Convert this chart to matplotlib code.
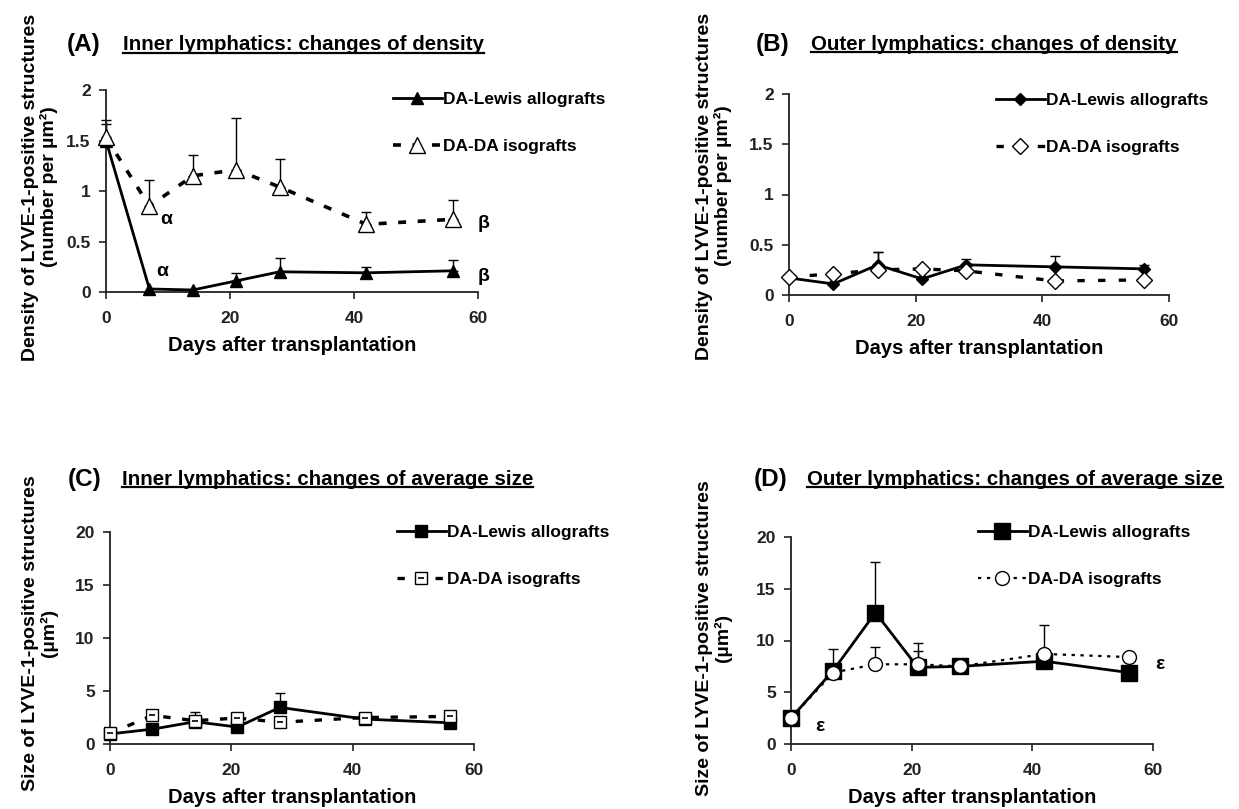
import numpy as np
import matplotlib
matplotlib.use("Agg")
import matplotlib.pyplot as plt
from matplotlib.lines import Line2D
from matplotlib.legend_handler import HandlerTuple

# days after transplantation
days = [0, 7, 14, 21, 28, 42, 56]

# (A) inner lymphatics, density
a_allo = [1.50, 0.03, 0.02, 0.11, 0.20, 0.19, 0.21]
a_allo_err = [0.20, 0, 0, 0.08, 0.14, 0.06, 0.11]
a_iso = [1.53, 0.85, 1.15, 1.21, 1.04, 0.67, 0.72]
a_iso_err = [0.13, 0.26, 0.21, 0.51, 0.28, 0.12, 0.19]

# (B) outer lymphatics, density
b_allo = [0.17, 0.11, 0.30, 0.16, 0.30, 0.28, 0.26]
b_allo_err = [0, 0, 0.13, 0, 0.06, 0.11, 0.04]
b_iso = [0.18, 0.21, 0.25, 0.26, 0.24, 0.14, 0.15]
b_iso_err = [0, 0, 0.18, 0, 0, 0, 0]

# (C) inner lymphatics, average size
c_allo = [0.95, 1.4, 2.1, 1.6, 3.45, 2.35, 2.0]
c_allo_err = [0, 0.3, 0.9, 0.3, 1.35, 0.2, 0.3]
c_iso = [1.0, 2.7, 2.2, 2.45, 2.05, 2.5, 2.6]
c_iso_err = [0, 0.2, 0.4, 0.2, 0.2, 0.2, 0.1]

# (D) outer lymphatics, average size
d_allo = [2.5, 7.1, 12.7, 7.4, 7.5, 8.0, 6.9]
d_allo_err = [0, 2.05, 4.9, 1.6, 0.3, 0, 0]
d_iso = [2.5, 6.9, 7.7, 7.7, 7.5, 8.7, 8.4]
d_iso_err = [0, 0, 1.65, 2.1, 0, 2.8, 0]

allo_label = "DA-Lewis allografts"
iso_label = "DA-DA isografts"
xlabel = "Days after transplantation"
ylab_density = "Density of LYVE-1-positive structures\n(number per µm²)"
ylab_size = "Size of LYVE-1-positive structures\n(µm²)"

SANS = ["Liberation Sans", "DejaVu Sans"]

W, H = 1239, 809
fig = plt.figure(figsize=(W / 100, H / 100), dpi=100)
fig.patch.set_facecolor("white")


def axes_px(x0, x1, ytop, ybot):
    return fig.add_axes([x0 / W, 1 - ybot / H, (x1 - x0) / W, (ybot - ytop) / H])


def style_axes(ax, ymax, yticks, yticklabels):
    ax.set_xlim(0, 60)
    ax.set_ylim(0, ymax)
    ax.set_xticks([0, 20, 40, 60])
    ax.set_yticks(yticks)
    ax.set_yticklabels(yticklabels)
    for s in ["top", "right"]:
        ax.spines[s].set_visible(False)
    for s in ["left", "bottom"]:
        ax.spines[s].set_linewidth(1.3)
        ax.spines[s].set_color("#222222")
    ax.tick_params(direction="out", length=5, width=1.2, color="#222222")
    ax.tick_params(axis="x", pad=9)
    ax.tick_params(axis="y", pad=6)
    for lab in ax.get_xticklabels() + ax.get_yticklabels():
        lab.set_family(SANS)
        lab.set_fontweight("bold")
        lab.set_fontsize(12.5)
        lab.set_color("#222222")
    ax.set_xlabel(xlabel, family=SANS, fontweight="bold", fontsize=14.5, labelpad=7)


def errbars(ax, vals, err):
    vals = np.array(vals, dtype=float)
    err = np.array(err, dtype=float)
    m = err > 0
    x = np.array(days)[m]
    ax.errorbar(x, vals[m], yerr=[np.zeros(m.sum()), err[m]], fmt="none",
                ecolor="black", elinewidth=1, capsize=3.5, capthick=1, zorder=1,
                clip_on=False)


def legend_at(ax, handles, x_px, ymid_px):
    leg = ax.legend(handles, [allo_label, iso_label], loc="center left",
                    bbox_to_anchor=(x_px / W, 1 - ymid_px / H),
                    bbox_transform=fig.transFigure, frameon=False,
                    handlelength=2.8, handletextpad=0.1, labelspacing=1.8,
                    borderpad=0, borderaxespad=0,
                    prop={"family": SANS, "weight": "bold", "size": 12.5},
                    handler_map={tuple: HandlerTuple(ndivide=1, pad=0)})
    return leg


def ylabel_at(text, x_px, y_px):
    fig.text(x_px / W, 1 - y_px / H, text, rotation=90, family=SANS,
             fontweight="bold", fontsize=14, ha="center", va="center",
             linespacing=1.05, multialignment="center")


titles = []


def panel_title(tag, text, tag_x, text_x, y):
    fig.text(tag_x / W, 1 - y / H, tag, family=SANS, fontweight="bold",
             fontsize=17.5, va="center", ha="left")
    t = fig.text(text_x / W, 1 - y / H, text, family=SANS, fontweight="bold",
                 fontsize=14.8, va="center", ha="left")
    titles.append(t)


# ---------------- (A) ----------------
axA = axes_px(106, 478, 90, 292)
errbars(axA, a_allo, a_allo_err)
errbars(axA, a_iso, a_iso_err)
lA1, = axA.plot(days, a_allo, color="black", lw=2, marker="^", ms=9,
                mfc="black", mec="black", zorder=3, clip_on=False)
lA2, = axA.plot(days, a_iso, color="black", lw=2.6, ls=(0, (2.2, 3.2)),
                marker="^", ms=12, mfc="white", mec="black", mew=1,
                zorder=4, clip_on=False)
style_axes(axA, 2, [0, 0.5, 1, 1.5, 2], ["0", "0.5", "1", "1.5", "2"])
legend_at(axA, [lA1, lA2], 393, 123)
for x, y, s in [(8.7, 0.72, "α"), (8.1, 0.2, "α"), (59.9, 0.68, "β"), (59.9, 0.15, "β")]:
    axA.text(x, y, s, family=SANS, fontweight="bold", fontsize=14,
             ha="left", va="center", clip_on=False)
panel_title("(A)", "Inner lymphatics: changes of density", 67, 123, 45)
ylabel_at(ylab_density, 40, 187)

# ---------------- (B) ----------------
axB = axes_px(789, 1169, 94, 295)
errbars(axB, b_allo, b_allo_err)
errbars(axB, b_iso, b_iso_err)
lB1, = axB.plot(days, b_allo, color="black", lw=2, marker="D", ms=6.5,
                mfc="black", mec="black", zorder=3, clip_on=False)
lB2, = axB.plot(days, b_iso, color="black", lw=2.4, ls=(0, (2.2, 4)),
                marker="D", ms=8.5, mfc="white", mec="black", mew=1,
                zorder=4, clip_on=False)
style_axes(axB, 2, [0, 0.5, 1, 1.5, 2], ["0", "0.5", "1", "1.5", "2"])
legend_at(axB, [lB1, lB2], 996, 124)
panel_title("(B)", "Outer lymphatics: changes of density", 756, 811, 44)
ylabel_at(ylab_density, 714, 186)

# ---------------- (C) ----------------
axC = axes_px(110, 474, 532, 744)
errbars(axC, c_allo, c_allo_err)
errbars(axC, c_iso, c_iso_err)
lC1, = axC.plot(days, c_allo, color="black", lw=2, marker="s", ms=8,
                mfc="black", mec="black", zorder=3, clip_on=False)
lC2, = axC.plot(days, c_iso, color="black", lw=2.4, ls=(0, (2.2, 3.5)),
                marker="s", ms=8, mfc="white", mec="black", mew=1,
                zorder=4, clip_on=False)
lC2b, = axC.plot(days, c_iso, ls="none", marker="_", ms=5, mec="black",
                 mew=1.2, zorder=5, clip_on=False)
style_axes(axC, 20, [0, 5, 10, 15, 20], ["0", "5", "10", "15", "20"])
legend_at(axC, [lC1, (lC2, lC2b)], 397, 556)
panel_title("(C)", "Inner lymphatics: changes of average size", 68, 122, 480)
ylabel_at(ylab_size, 40, 633)

# ---------------- (D) ----------------
axD = axes_px(791, 1153, 537, 744)
errbars(axD, d_allo, d_allo_err)
errbars(axD, d_iso, d_iso_err)
lD1, = axD.plot(days, d_allo, color="black", lw=2, marker="s", ms=12,
                mfc="black", mec="black", zorder=3, clip_on=False)
lD2, = axD.plot(days, d_iso, color="black", lw=1.6, ls=(0, (1.5, 2.5)),
                marker="o", ms=10, mfc="white", mec="black", mew=1,
                zorder=4, clip_on=False)
style_axes(axD, 20, [0, 5, 10, 15, 20], ["0", "5", "10", "15", "20"])
legend_at(axD, [lD1, lD2], 978, 556)
for x, y, s in [(4.0, 1.7, "ε"), (60.4, 7.7, "ε")]:
    axD.text(x, y, s, family=SANS, fontweight="bold", fontsize=14,
             ha="left", va="center", clip_on=False)
panel_title("(D)", "Outer lymphatics: changes of average size", 754, 807, 480)
ylabel_at(ylab_size, 714, 638)

# underline the panel titles
fig.canvas.draw()
r = fig.canvas.get_renderer()
for t in titles:
    bb = t.get_window_extent(renderer=r)
    yline = bb.y0 + 2
    fig.add_artist(Line2D([bb.x0 / W, bb.x1 / W], [yline / H, yline / H],
                          color="black", lw=1.6, transform=fig.transFigure))

fig.savefig("out.png", dpi=100, facecolor="white")
